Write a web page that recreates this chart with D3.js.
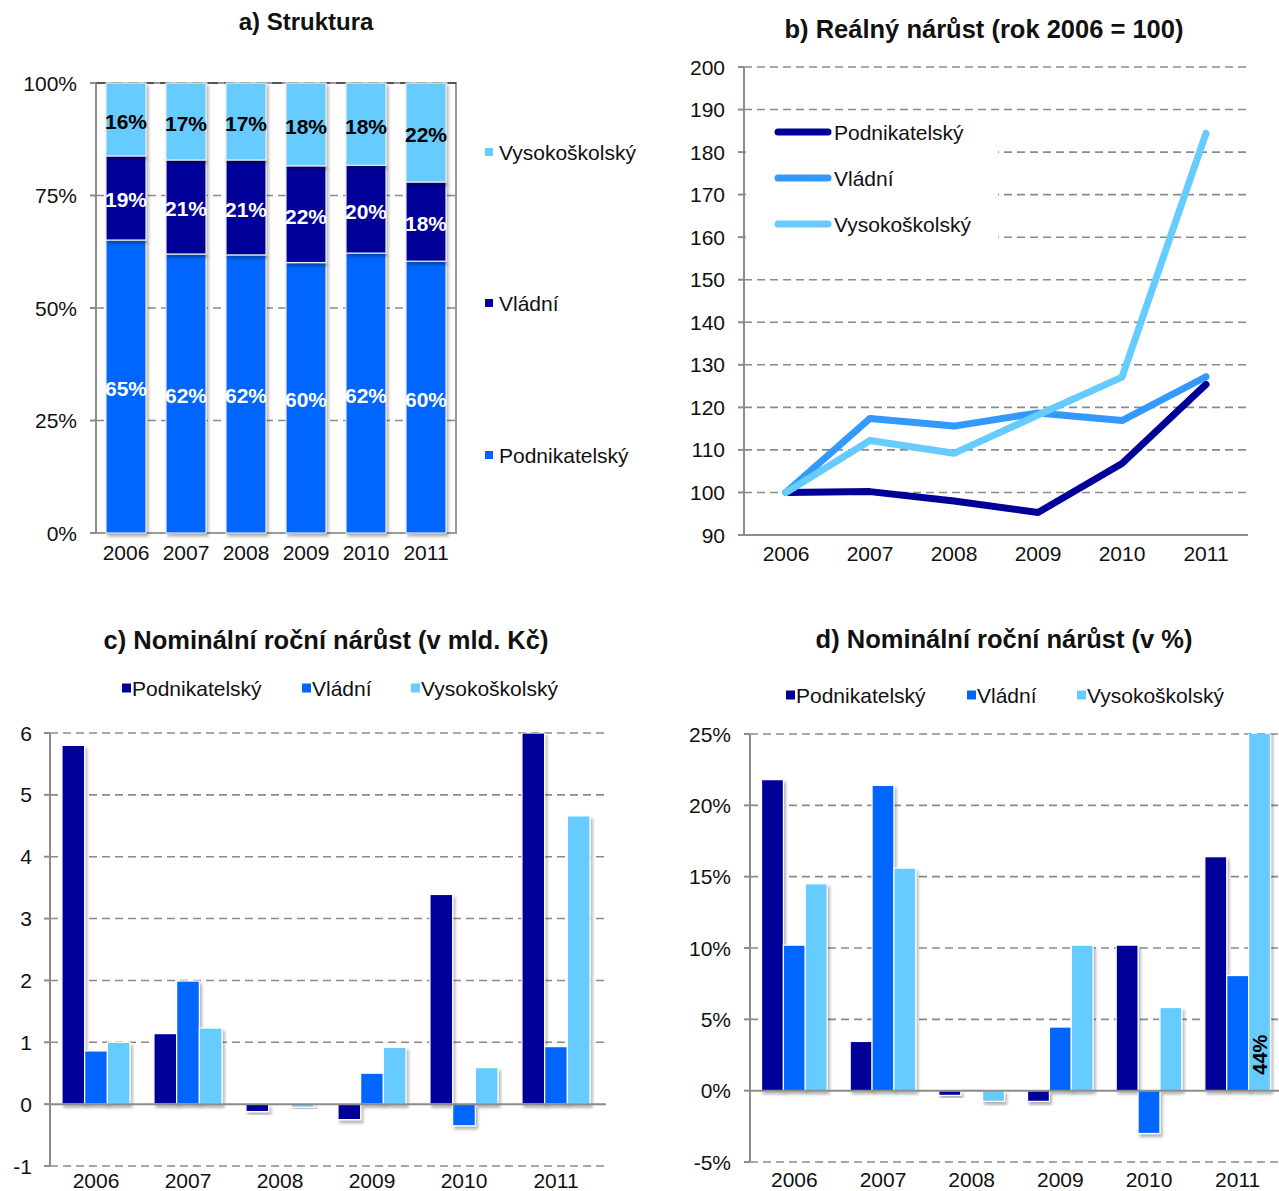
<!DOCTYPE html>
<html><head><meta charset="utf-8">
<script src="https://cdn.jsdelivr.net/npm/d3@7"></script>
<style>
html,body{margin:0;padding:0;background:#fff;}
svg{display:block;font-family:"Liberation Sans",Arial,sans-serif;}
</style></head>
<body>
<svg id="c" width="1279" height="1191"></svg>
<script>
const years = ["2006","2007","2008","2009","2010","2011"];
const seriesNames = ["Podnikatelský","Vládní","Vysokoškolský"];
const barColors = ["#000099","#0066FF","#66CCFF"];
const structColors = ["#0066FF","#000099","#66CCFF"];
const lineColors = ["#000099","#3399FF","#66CCFF"];

// a) Struktura (share, %)
const structP = [65.1,62.0,61.8,60.1,62.2,60.4];
const structV = [18.7,20.9,21.1,21.5,19.5,17.6];
const structH = [16.2,17.1,17.1,18.4,18.3,22.0];
const structTicks = [0,25,50,75,100];

// b) Real growth index (2006 = 100)
const realP = [100,100.2,98.0,95.3,106.8,125.4];
const realV = [100,117.4,115.6,118.7,116.9,127.2];
const realH = [100,112.2,109.2,118.2,127.1,184.4];
const realTicks = [90,100,110,120,130,140,150,160,170,180,190,200];

// c) Nominal annual growth (bn CZK)
const nomP = [5.80,1.14,-0.12,-0.25,3.39,6.0];
const nomV = [0.86,1.99,-0.01,0.50,-0.35,0.93];
const nomH = [1.00,1.23,-0.05,0.92,0.59,4.66];
const nomTicks = [-1,0,1,2,3,4,5,6];

// d) Nominal annual growth (%)
const pctP = [21.8,3.45,-0.33,-0.75,10.2,16.4];
const pctV = [10.2,21.4,0.1,4.46,-3.0,8.07];
const pctH = [14.5,15.6,-0.75,10.2,5.83,44];
const pctTicks = [-5,0,5,10,15,20,25];

const svg = d3.select("#c");
const GRID = "#8a8a8a", AXIS = "#8c8c8c", TXT = "#111";
const FS = 21;
const defs = svg.append("defs");
const f = defs.append("filter").attr("id","sh").attr("x","-20%").attr("y","-20%").attr("width","160%").attr("height","160%");
f.append("feDropShadow").attr("dx",2).attr("dy",3).attr("stdDeviation",1.6).attr("flood-color","#000").attr("flood-opacity",0.3);

function title(x,y,t,fs){
  svg.append("text").attr("x",x).attr("y",y).attr("text-anchor","middle").attr("dominant-baseline","middle")
    .attr("font-size",fs).attr("font-weight","bold").attr("fill",TXT).text(t);
}
function grid(g,y,ticks,x0,x1){
  g.selectAll(null).data(ticks).enter().append("line")
    .attr("x1",x0).attr("x2",x1).attr("y1",d=>y(d)).attr("y2",d=>y(d))
    .attr("stroke",GRID).attr("stroke-width",1.6).attr("stroke-dasharray","8,5");
}
function yAxis(g,y,ticks,x,fmt,labelX){
  g.append("line").attr("x1",x).attr("x2",x).attr("y1",y(d3.max(ticks))).attr("y2",y(d3.min(ticks)))
    .attr("stroke",AXIS).attr("stroke-width",2);
  g.selectAll(null).data(ticks).enter().append("line")
    .attr("x1",x-6).attr("x2",x).attr("y1",d=>y(d)).attr("y2",d=>y(d)).attr("stroke",AXIS).attr("stroke-width",2);
  g.selectAll(null).data(ticks).enter().append("text")
    .attr("x",labelX).attr("y",d=>y(d)).attr("text-anchor","end").attr("dominant-baseline","central")
    .attr("font-size",FS).attr("fill",TXT).text(fmt);
}
function xLabels(g,xc,yPos){
  g.selectAll(null).data(years).enter().append("text")
    .attr("x",d=>xc(d)).attr("y",yPos).attr("text-anchor","middle").attr("dominant-baseline","central")
    .attr("font-size",FS).attr("fill",TXT).text(d=>d);
}

// ---------- a) ----------
{
  const g = svg.append("g");
  title(306,24,"a) Struktura",24);
  const x = d3.scaleBand().domain(years).range([96,456]).paddingInner(1/3).paddingOuter(1/6);
  const y = d3.scaleLinear().domain([0,100]).range([533,83]);
  grid(g,y,[25,50,75],96,456);
  g.append("rect").attr("x",96).attr("y",83).attr("width",360).attr("height",450)
    .attr("fill","none").attr("stroke","#9a9a9a").attr("stroke-width",2);
  g.append("line").attr("x1",96).attr("x2",456).attr("y1",y(100)).attr("y2",y(100))
    .attr("stroke","#555").attr("stroke-width",2).attr("stroke-dasharray","10,6");
  yAxis(g,y,structTicks,96,d=>d+"%",77);
  const data = years.map((yr,i)=>({yr, vals:[structP[i],structV[i],structH[i]]}));
  const labColors = ["#fff","#fff","#000"];
  data.forEach(d=>{
    let cum=0;
    d.vals.forEach((v,k)=>{
      const y0=cum, y1=cum+v; cum=y1;
      g.append("rect").attr("x",x(d.yr)).attr("y",y(y1)).attr("width",x.bandwidth()).attr("height",y(y0)-y(y1))
        .attr("fill",structColors[k]).attr("stroke","#e8e8e8").attr("stroke-width",1.2).attr("filter","url(#sh)");
      g.append("text").attr("x",x(d.yr)+x.bandwidth()/2).attr("y",y((y0+y1)/2)+2)
        .attr("text-anchor","middle").attr("dominant-baseline","central").attr("font-size",21).attr("font-weight","bold")
        .attr("fill",labColors[k]).text(Math.round(v)+"%");
    });
  });
  xLabels(g,d=>x(d)+x.bandwidth()/2,552);
  const legY = [455,303,152];
  seriesNames.forEach((s,k)=>{
    g.append("rect").attr("x",485).attr("y",legY[k]-4).attr("width",8).attr("height",8).attr("fill",structColors[k]);
    g.append("text").attr("x",499).attr("y",legY[k]).attr("dominant-baseline","central").attr("font-size",FS).attr("fill",TXT).text(s);
  });
}

// ---------- b) ----------
{
  const g = svg.append("g");
  title(984,31,"b) Reálný nárůst (rok 2006 = 100)",25.5);
  const x = d3.scalePoint().domain(years).range([744,1248]).padding(0.5);
  const y = d3.scaleLinear().domain([90,200]).range([535,67]);
  grid(g,y,realTicks.filter(t=>t>90),744,1248);
  g.append("rect").attr("x",746).attr("y",118).attr("width",252).attr("height",128).attr("fill","#fff");
  yAxis(g,y,realTicks,744,d=>d,725);
  g.append("line").attr("x1",744).attr("x2",1248).attr("y1",y(90)).attr("y2",y(90)).attr("stroke",AXIS).attr("stroke-width",2);
  xLabels(g,x,553);
  const series=[realP,realV,realH];
  const line = d3.line().x((d,i)=>x(years[i])).y(d=>y(d));
  series.forEach((s,k)=>{
    g.append("path").attr("d",line(s)).attr("fill","none").attr("stroke",lineColors[k]).attr("stroke-width",7)
      .attr("stroke-linejoin","round").attr("stroke-linecap","round");
  });
  const legY=[132,178,224];
  seriesNames.forEach((s,k)=>{
    g.append("line").attr("x1",778).attr("x2",828).attr("y1",legY[k]).attr("y2",legY[k])
      .attr("stroke",lineColors[k]).attr("stroke-width",7).attr("stroke-linecap","round");
    g.append("text").attr("x",834).attr("y",legY[k]).attr("dominant-baseline","central").attr("font-size",FS).attr("fill",TXT).text(s);
  });
}

function groupedPanel(opts){
  const g = svg.append("g");
  title(opts.titleX,opts.titleY,opts.title,25.5);
  const x0 = d3.scaleBand().domain(years).range(opts.xr).paddingInner(0.26).paddingOuter(0.13);
  const x1 = d3.scaleBand().domain(seriesNames).range([0,x0.bandwidth()]);
  const y = d3.scaleLinear().domain(opts.yd).range(opts.yr);
  grid(g,y,opts.ticks.filter(t=>t!==0),opts.xr[0],opts.gridEnd);
  yAxis(g,y,opts.ticks,opts.xr[0],opts.fmt,opts.labelX);
  const clipId = "clip"+opts.id;
  defs.append("clipPath").attr("id",clipId).append("rect")
    .attr("x",opts.xr[0]).attr("y",opts.yr[1]).attr("width",opts.xr[1]-opts.xr[0]).attr("height",opts.yr[0]-opts.yr[1]);
  const bars = g.append("g").attr("clip-path","url(#"+clipId+")");
  years.forEach((yr,i)=>{
    opts.series.forEach((s,k)=>{
      const v=s[i];
      bars.append("rect").attr("x",x0(yr)+x1(seriesNames[k])).attr("width",x1.bandwidth())
        .attr("y",y(Math.max(0,v))).attr("height",Math.max(1,Math.abs(y(v)-y(0))))
        .attr("fill",barColors[k]).attr("stroke","#fff").attr("stroke-width",1.2).attr("filter","url(#sh)");
      if(v>opts.yd[1]){
        const cx=x0(yr)+x1(seriesNames[k])+x1.bandwidth()/2, cy=y(0)-36;
        g.append("text").attr("transform",`translate(${cx},${cy}) rotate(-90)`).attr("text-anchor","middle")
          .attr("dominant-baseline","central").attr("font-size",20).attr("font-weight","bold").attr("fill","#000")
          .text(Math.round(v)+"%");
      }
    });
  });
  g.append("line").attr("x1",opts.xr[0]).attr("x2",opts.gridEnd).attr("y1",y(0)).attr("y2",y(0)).attr("stroke",AXIS).attr("stroke-width",2);
  xLabels(g,d=>x0(d)+x0.bandwidth()/2,opts.xLabY);
  opts.legend.forEach((lx,k)=>{
    g.append("rect").attr("x",lx).attr("y",opts.legY-4.5).attr("width",9).attr("height",9).attr("fill",barColors[k]);
    g.append("text").attr("x",lx+10).attr("y",opts.legY).attr("dominant-baseline","central").attr("font-size",FS).attr("fill",TXT).text(seriesNames[k]);
  });
}

groupedPanel({id:"c",title:"c) Nominální roční nárůst (v mld. Kč)",titleX:326,titleY:642,
  xr:[50,602],gridEnd:606,yd:[-1,6],yr:[1166,733],ticks:nomTicks,fmt:d=>d,labelX:32,
  series:[nomP,nomV,nomH],xLabY:1180,legY:688,legend:[122,302,411]});

groupedPanel({id:"d",title:"d) Nominální roční nárůst (v %)",titleX:1004,titleY:641,
  xr:[750,1282],gridEnd:1282,yd:[-5,25],yr:[1162,734],ticks:pctTicks,fmt:d=>d+"%",labelX:731,
  series:[pctP,pctV,pctH],xLabY:1179,legY:695,legend:[786,967,1077]});
</script>
</body></html>
